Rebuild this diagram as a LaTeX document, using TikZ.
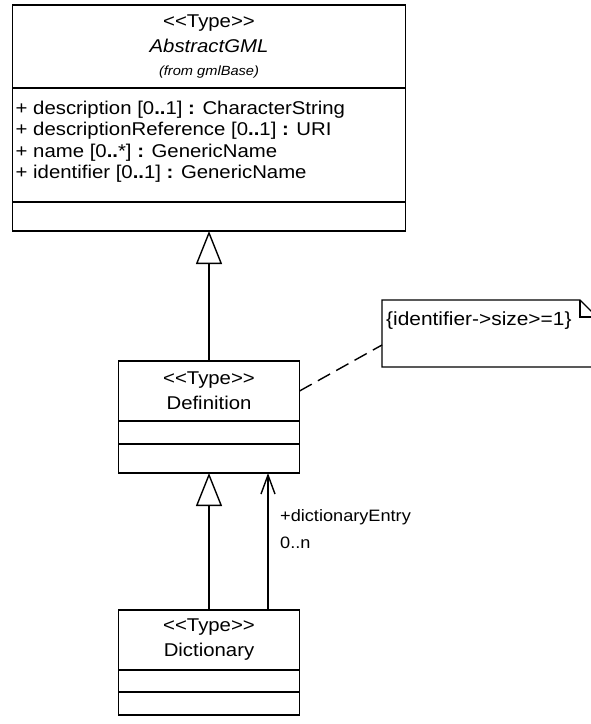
\documentclass[tikz,border=0pt]{standalone}
\usepackage{fontspec}
\setmainfont{Liberation Sans}[FakeStretch=1.1]
\usetikzlibrary{arrows.meta,positioning,calc}
\tikzset{
  compart/.style={draw=black, line width=1.4pt, inner sep=0pt, outer sep=0pt,
    align=center, font=\fontsize{18.5}{25}\selectfont, minimum height=#1},
  compart/.default={22pt},
  attrtext/.style={inner sep=0pt, align=left, font=\fontsize{18.5}{21.3}\selectfont},
  notebox/.style={inner sep=0pt, outer sep=0pt, minimum width=215pt, minimum height=67pt},
  notepath/.style={draw=black, line width=1.4pt, line join=miter},
  genarrow/.style={-{Triangle[open, length=33pt, width=26pt]}, line width=1.4pt},
  assocarrow/.style={-{Straight Barb[length=19pt, width=14pt]}, line width=1.4pt},
  anchorline/.style={line width=1.4pt, dash pattern=on 14pt off 7pt},
  rolelabel/.style={inner sep=0pt, font=\fontsize{16.5}{20}\selectfont},
}

\begin{document}
\begin{tikzpicture}[x=1pt, y=1pt]
  \useasboundingbox (0,0) rectangle (591,-724);

  % AbstractGML
  \node[compart=83pt, minimum width=393pt, anchor=north] (absHead) at (209,-5)
    {<\kern0pt<Type>\kern0pt>\\ \textit{AbstractGML}\\[-2pt]
     {\fontsize{13.3}{15}\selectfont\itshape (from gmlBase)}};
  \node[compart=114pt, minimum width=393pt, below=0pt of absHead] (absAttr) {};
  \node[compart=29pt, minimum width=393pt, below=0pt of absAttr] (absOps) {};
  \node[attrtext, anchor=north west] (absAttrText) at ($(absAttr.north west)+(3,-13)$)
    {+ description [0\textbf{..}1] \textbf{:} CharacterString\\
     + descriptionReference [0\textbf{..}1] \textbf{:} URI\\
     + name [0\textbf{..}*] \textbf{:} GenericName\\
     + identifier [0\textbf{..}1] \textbf{:} GenericName};

  % Definition
  \node[compart=60pt, minimum width=181pt, anchor=north] (defHead) at (209,-361)
    {<\kern0pt<Type>\kern0pt>\\ Definition};
  \node[compart=23pt, minimum width=181pt, below=0pt of defHead] (defAttr) {};
  \node[compart=29pt, minimum width=181pt, below=0pt of defAttr] (defOps) {};

  % Dictionary
  \node[compart=60pt, minimum width=181pt, anchor=north] (dictHead) at (209,-610)
    {<\kern0pt<Type>\kern0pt>\\ Dictionary};
  \node[compart=22pt, minimum width=181pt, below=0pt of dictHead] (dictAttr) {};
  \node[compart=23pt, minimum width=181pt, below=0pt of dictAttr] (dictOps) {};

  % constraint note
  \node[notebox, anchor=north west] (constraint) at (382,-300) {};
  \node[inner sep=0pt, anchor=west, font=\fontsize{19}{21}\selectfont] (constraintText)
    at ($(constraint.north west)+(4,-21)$) {\{identifier->size>=1\}};
  \draw[notepath] (constraint.north west) -- ($(constraint.north east)+(-17,0)$)
    -- ($(constraint.north east)+(0,-17)$) -- (constraint.south east)
    -- (constraint.south west) -- cycle;
  \draw[notepath] ($(constraint.north east)+(-17,0)$) |- ($(constraint.north east)+(0,-17)$);
  \coordinate (noteEnd) at ($(constraint.west)+(0,-11.5)$);
  \draw[anchorline] (defHead.east) -- (noteEnd);

  % relations
  \draw[genarrow] (defHead.north) -- (absOps.south);
  \draw[genarrow] (dictHead.north) -- (defOps.south);
  \coordinate (entryEnd) at ($(defOps.south)+(59,0)$);
  \draw[assocarrow] (dictHead.north -| entryEnd) -- (entryEnd);
  \node[rolelabel, anchor=west] (entryRole) at ($(entryEnd)+(12,-44)$) {+dictionaryEntry};
  \node[rolelabel, anchor=west] (entryMult) at ($(entryEnd)+(12,-70)$) {0..n};
\end{tikzpicture}
\end{document}
